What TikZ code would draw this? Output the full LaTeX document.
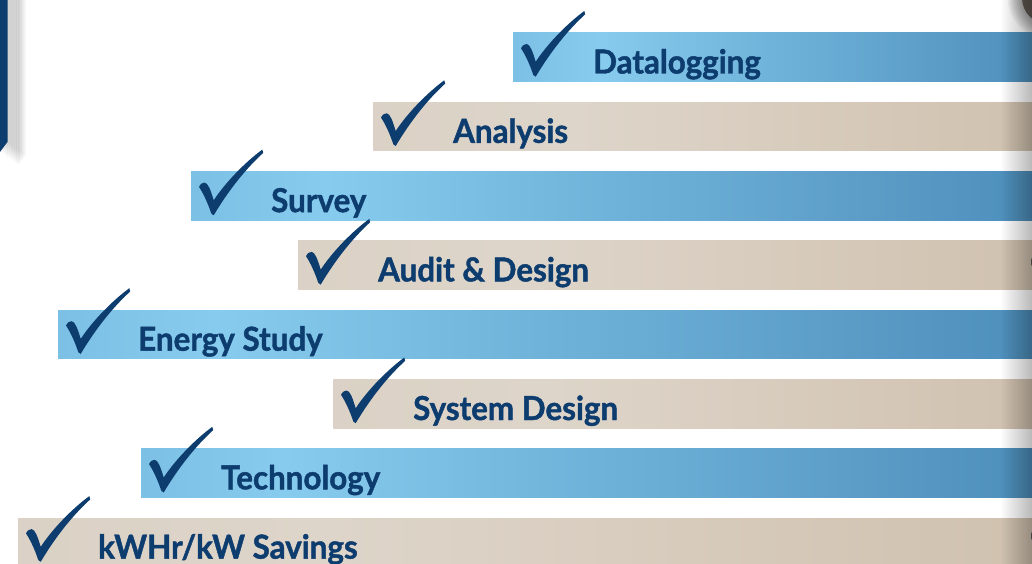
\documentclass[tikz,border=0pt]{standalone}
\usepackage{fontspec}
\setmainfont{Lato}[BoldFeatures={FakeBold=1.3, FakeStretch=0.95}]
\usetikzlibrary{fadings}
\definecolor{navy}{HTML}{0D3C6E}
\definecolor{bL}{HTML}{5A9DCA}
\definecolor{bM}{HTML}{87CBEE}
\definecolor{bR}{HTML}{2A6A9C}
\definecolor{tL}{HTML}{D6CBBE}
\definecolor{tM}{HTML}{DED5CA}
\definecolor{tR}{HTML}{C6B39B}
\definecolor{knob}{HTML}{5E5650}
\pgfdeclarehorizontalshading{bluebar}{100bp}{color(0bp)=(bL); color(33bp)=(bM); color(100bp)=(bR)}
\pgfdeclarehorizontalshading{tanbar}{100bp}{color(0bp)=(tL); color(40bp)=(tM); color(100bp)=(tR)}
\tikzfading[name=fadeR, left color=transparent!100, right color=transparent!0]
\tikzset{
  barlabel/.style={anchor=base west, inner sep=0pt, text=navy, font=\bfseries\fontsize{33}{33}\selectfont},
  checkmk/.style={fill=navy},
  softshadow/.style={fill=black, opacity=0.045}
}
\newcommand\stepbar[5]{%
  \shade[shading=#3] (#1,#2) rectangle (1040,#2+48.5);
  \begin{scope}[shift={(#1,#2)}]
    \fill[checkmk] (8,15.3) .. controls (10,12) .. (13.7,11)
      .. controls (17,11.5) and (19.5,18) .. (22.7,28.7)
      .. controls (35,10) and (55,-10) .. (71.3,-22) -- (72.2,-18.7)
      .. controls (55,-3) and (38,18) .. (22.7,43.7) -- (20.3,42)
      .. controls (17,32) and (12.5,22) .. cycle;
  \end{scope}
  \node[barlabel] (#5) at (#1+80,#2+40.5) {#4};
}
\begin{document}
\begin{tikzpicture}[x=1pt,y=-1pt]
\useasboundingbox (0,0) rectangle (1032,564);
\clip (0,0) rectangle (1032,564);
\fill[white] (0,0) rectangle (1032,564);
% top-left navy tab with soft shadow
\foreach \k in {1,...,10}
  \fill[softshadow] (0+\k*1.8,-5) -- (7.5+\k*1.8,-5) -- (7.5+\k*1.8,142+\k*1.3) -- (0+\k*1.8,152+\k*1.3) -- cycle;
\fill[navy] (0,-5) -- (7.5,-5) -- (7.5,142) -- (0,152) -- cycle;
% top-right knob with soft shadow
\foreach \k in {1,...,8}
  \fill[softshadow] (1048,-2) circle (26+\k*1.8);
\fill[knob] (1048,-2) circle (26);
% bars
\stepbar{513}{33}{bluebar}{Datalogging}{l1}
\stepbar{373}{102.3}{tanbar}{Analysis}{l2}
\stepbar{191}{171.6}{bluebar}{Survey}{l3}
\stepbar{298}{240.9}{tanbar}{Audit \& Design}{l4}
\stepbar{58}{310.2}{bluebar}{Energy Study}{l5}
\stepbar{333}{379.5}{tanbar}{System Design}{l6}
\stepbar{141}{448.8}{bluebar}{Technology}{l7}
\stepbar{18}{518.1}{tanbar}{kWHr/kW Savings}{l8}
% right page-edge shadow
\fill[black, opacity=0.28, path fading=fadeR] (1000,0) rectangle (1032,564);
\fill[black!75] (1034,262) ellipse (3 and 6);
\fill[black!75] (1034,536) ellipse (3 and 6);
\end{tikzpicture}
\end{document}
